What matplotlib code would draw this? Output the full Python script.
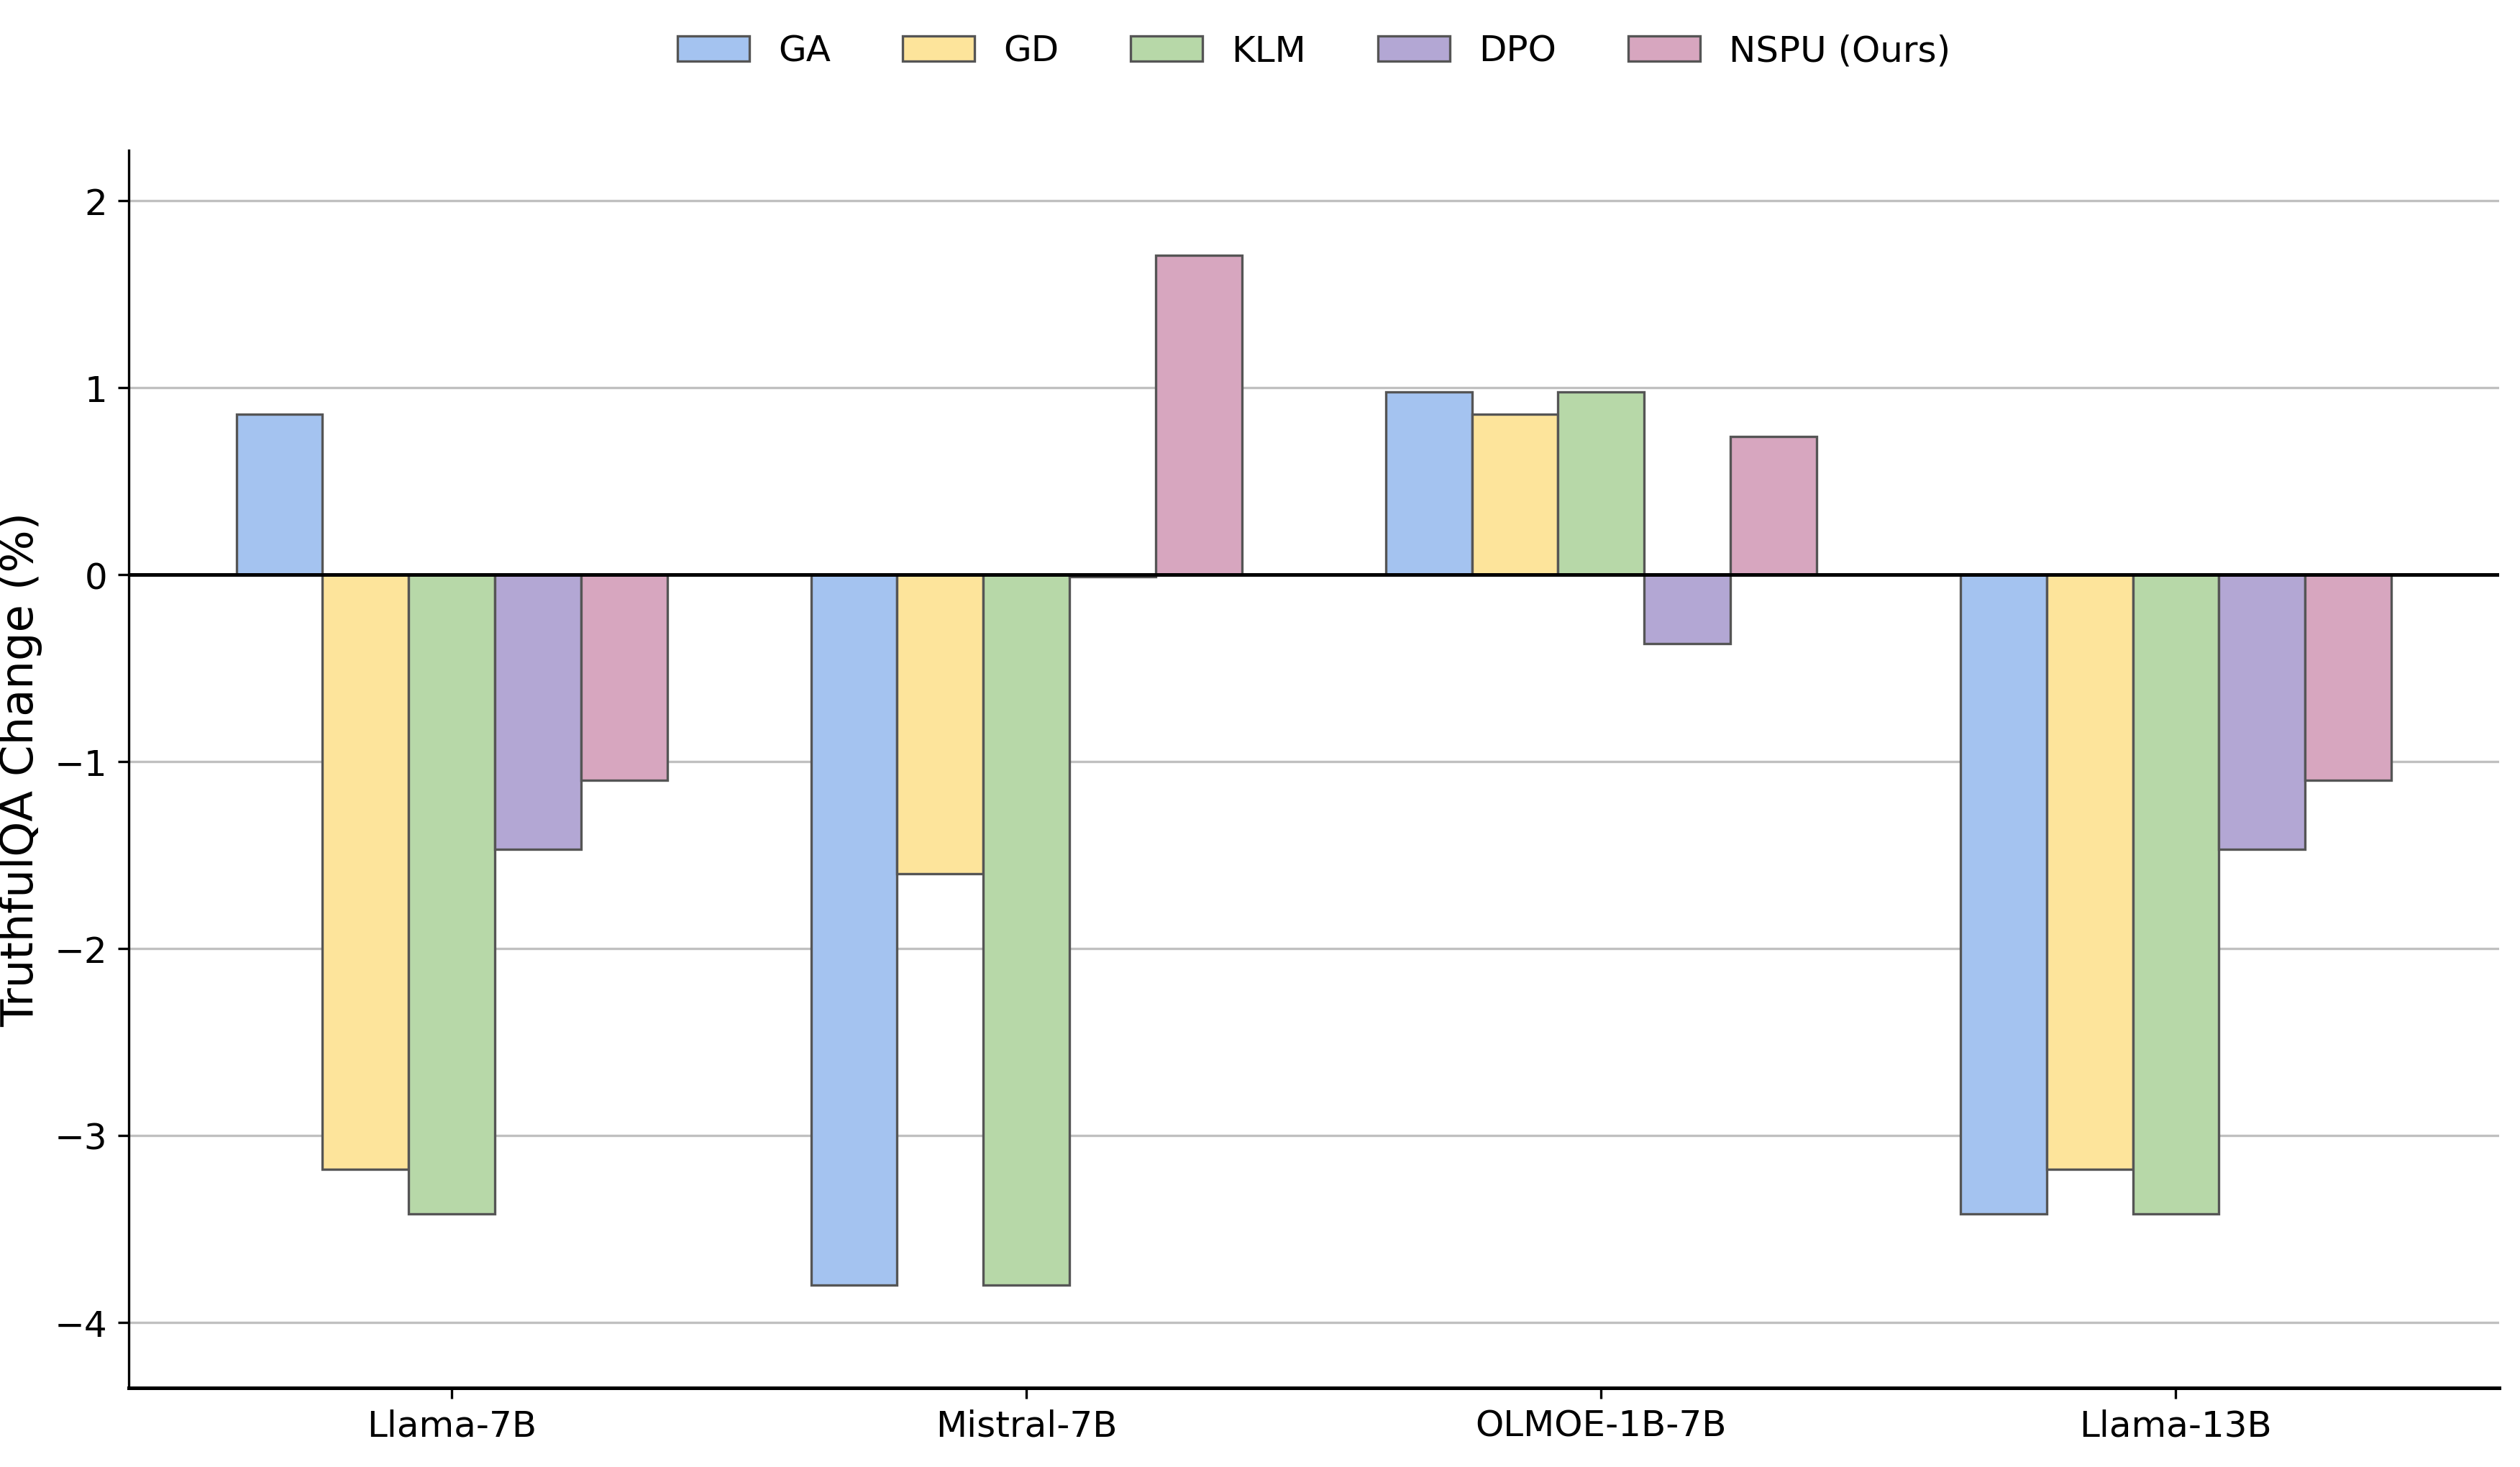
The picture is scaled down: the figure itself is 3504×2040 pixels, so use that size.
import matplotlib
matplotlib.use("Agg")
import matplotlib.pyplot as plt
import numpy as np

models = ["Llama-7B", "Mistral-7B", "OLMOE-1B-7B", "Llama-13B"]
methods = ["GA", "GD", "KLM", "DPO", "NSPU (Ours)"]
ga = [0.86, -3.80, 0.98, -3.42]
gd = [-3.18, -1.60, 0.86, -3.18]
klm = [-3.42, -3.80, 0.98, -3.42]
dpo = [-1.47, -0.01, -0.37, -1.47]
nspu = [-1.10, 1.71, 0.74, -1.10]
colors = ["#a4c3f0", "#fde49b", "#b7d8a8", "#b3a7d4", "#d7a6bf"]

series = [ga, gd, klm, dpo, nspu]

fig = plt.figure(figsize=(11.68, 6.803), dpi=300)
ax = fig.add_axes([0.051, 0.054, 0.9407, 0.843])

x = np.arange(len(models))
w = 0.15
for i, (vals, c, name) in enumerate(zip(series, colors, methods)):
    ax.bar(x + (i - 2) * w, vals, w, color=c, edgecolor="#555555",
           linewidth=0.8, label=name, zorder=3)

ax.axhline(0, color="black", linewidth=1.2, zorder=4)
ax.set_ylim(-4.35, 2.27)
ax.set_xticks(x)
ax.set_xticklabels(models, fontsize=12)
ax.tick_params(axis="y", labelsize=12)
ax.set_ylabel("TruthfulQA Change (%)", fontsize=15)
ax.yaxis.grid(True, color="#c0c0c0", linewidth=0.8, zorder=0)
ax.set_axisbelow(True)
ax.spines["top"].set_visible(False)
ax.spines["right"].set_visible(False)
ax.spines["bottom"].set_linewidth(1.2)

ax.legend(loc="center", bbox_to_anchor=(0.5, 1.0805), ncol=5, frameon=False,
          fontsize=12)

fig.savefig("out.png", dpi=300)
